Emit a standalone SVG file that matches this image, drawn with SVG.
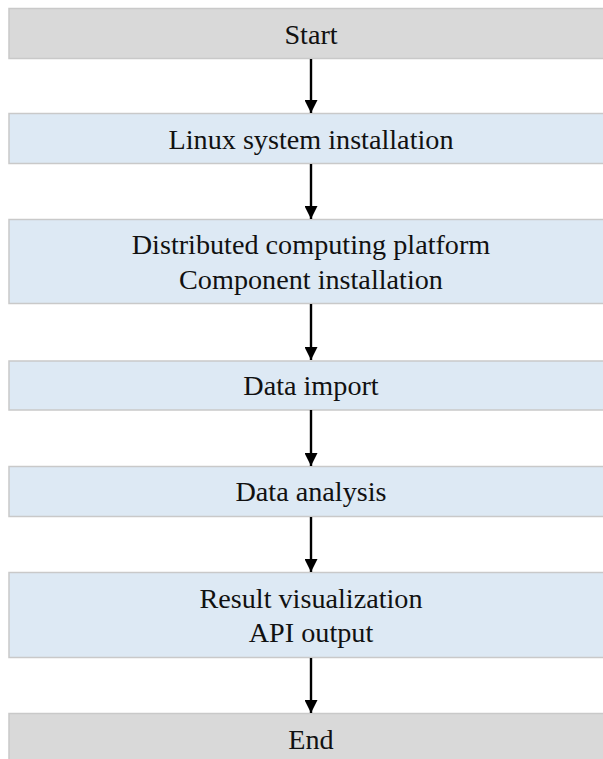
<svg xmlns="http://www.w3.org/2000/svg" width="603" height="759" viewBox="0 0 603 759">
  <defs>
    <style>
      .term { fill: #d9d9d9; stroke: #c9c9c9; stroke-width: 1.5; }
      .step { fill: #dde9f4; stroke: #c9c9c9; stroke-width: 1.5; }
      .label { font-family: "Liberation Serif", "Times New Roman", serif; font-size: 28.2px; fill: #111; text-anchor: middle; }
      .flow { stroke: #000; stroke-width: 2.4; fill: none; marker-end: url(#arrow); }
    </style>
    <marker id="arrow" viewBox="0 0 12 12" refX="12" refY="6" markerWidth="13" markerHeight="13" markerUnits="userSpaceOnUse" orient="auto">
      <path d="M0,0 L12,6 L0,12 Z" fill="#000"/>
    </marker>
  </defs>
  <rect width="603" height="759" fill="#fff"/>

  <g id="start">
    <rect class="term" x="9" y="8.5" width="600" height="50"/>
    <text class="label" x="311" y="44">Start</text>
  </g>
  <g id="linux">
    <rect class="step" x="9" y="113.5" width="600" height="50"/>
    <text class="label" x="311" y="149">Linux system installation</text>
  </g>
  <g id="platform">
    <rect class="step" x="9" y="219.5" width="600" height="84"/>
    <text class="label" x="311" y="254">Distributed computing platform</text>
    <text class="label" x="311" y="289">Component installation</text>
  </g>
  <g id="import">
    <rect class="step" x="9" y="361" width="600" height="49"/>
    <text class="label" x="311" y="395">Data import</text>
  </g>
  <g id="analysis">
    <rect class="step" x="9" y="466.5" width="600" height="50"/>
    <text class="label" x="311" y="501">Data analysis</text>
  </g>
  <g id="result">
    <rect class="step" x="9" y="572.5" width="600" height="85"/>
    <text class="label" x="311" y="608">Result visualization</text>
    <text class="label" x="311" y="642">API output</text>
  </g>
  <g id="end">
    <rect class="term" x="9" y="713.5" width="600" height="60"/>
    <text class="label" x="311" y="749">End</text>
  </g>

  <g id="connectors">
    <line class="flow" x1="311" y1="59" x2="311" y2="113"/>
    <line class="flow" x1="311" y1="164" x2="311" y2="219"/>
    <line class="flow" x1="311" y1="304" x2="311" y2="360"/>
    <line class="flow" x1="311" y1="410" x2="311" y2="466"/>
    <line class="flow" x1="311" y1="517" x2="311" y2="572"/>
    <line class="flow" x1="311" y1="658" x2="311" y2="713"/>
  </g>
</svg>
